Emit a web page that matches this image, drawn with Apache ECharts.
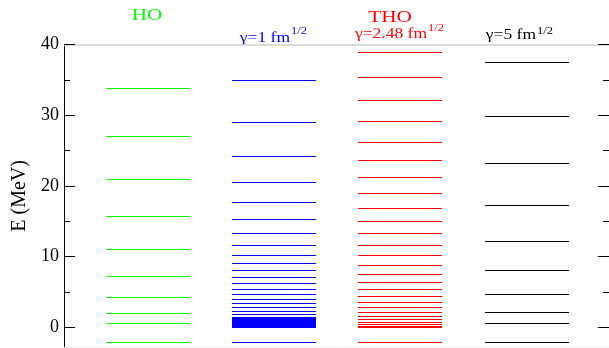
<!DOCTYPE html>
<html>
<head>
<meta charset="utf-8">
<script src="https://cdn.jsdelivr.net/npm/echarts@6/dist/echarts.min.js"></script>
<style>
  html, body {margin: 0; padding: 0; background: #fff;}
  #chart {width: 609px; height: 348px;}
</style>
</head>
<body>
<div id="chart"></div>
<script>
// energy levels (MeV), one array per column
const hoLevels = [33.88, 27.05, 20.97, 15.69, 11.08, 7.31, 4.30, 2.03, 0.62, -2.12];
const gamma1Levels = [35.05, 28.98, 24.27, 20.59, 17.67, 15.27, 13.34, 11.69, 10.28, 9.10,
  8.06, 7.12, 6.27, 5.45, 4.72, 4.06, 3.45, 2.88, 2.40, 1.97, 1.55,
  1.30, 1.16, 1.03, 0.91, 0.79, 0.68, 0.57, 0.47, 0.38, 0.29, 0.21, 0.13, 0.06, -2.12];
const thoLevels = [38.93, 35.39, 32.14, 29.12, 26.25, 23.70, 21.30, 18.99, 16.92, 15.04,
  13.29, 11.69, 10.18, 8.82, 7.57, 6.42, 5.37, 4.46, 3.61, 2.88, 2.20, 1.63, 1.15,
  0.78, 0.50, 0.24, 0.05, -2.12];
const gamma5Levels = [37.51, 29.88, 23.18, 17.30, 12.25, 8.06, 4.72, 2.18, 0.66, -2.12];

const majorTicks = [0, 10, 20, 30, 40];
const minorTicks = [5, 15, 25, 35];

const columns = [
  {levels: hoLevels, color: '#00ff00'},
  {levels: gamma1Levels, color: '#0000ff'},
  {levels: thoLevels, color: '#ff0000'},
  {levels: gamma5Levels, color: '#000000'},
];

const HALF = 0.333;
const FONT = 'Liberation Serif';

const myChart = echarts.init(document.getElementById('chart'));

function levelSeries(col, i) {
  return {
    type: 'custom',
    xAxisIndex: 0,
    yAxisIndex: 0,
    silent: true,
    data: col.levels.map(e => [i, e]),
    renderItem(params, api) {
      const x = api.value(0), e = api.value(1);
      const p1 = api.coord([x - HALF, e]);
      const p2 = api.coord([x + HALF, e]);
      const y = Math.round(p1[1]) + 0.5;
      return {
        type: 'line',
        shape: {x1: Math.round(p1[0]), y1: y, x2: Math.round(p2[0]), y2: y},
        style: {stroke: col.color, lineWidth: 1}
      };
    }
  };
}

function tickAxis(position, values, len, opts) {
  return Object.assign({
    type: 'value',
    position: position,
    min: -2.8,
    max: 40,
    axisLine: {show: false, onZero: false},
    axisTick: {show: true, inside: true, length: len, customValues: values,
      lineStyle: {color: '#000', width: 1}},
    axisLabel: {show: false},
    splitLine: {show: false},
  }, opts || {});
}

function title(text, x, y, size, color, align) {
  return {
    type: 'text',
    x: x, y: y,
    scaleX: 1.25,
    silent: true,
    style: {
      text: text, x: 0, y: 0,
      fill: color,
      font: size + 'px "Liberation Serif", serif',
      textAlign: align,
      textVerticalAlign: 'middle'
    }
  };
}

myChart.setOption({
  animation: false,
  grid: {left: 64, top: 44.5, width: 545, bottom: 0.7, containLabel: false},
  xAxis: [{
    type: 'value', position: 'top', min: -0.6656, max: 3.653,
    axisLine: {show: true, onZero: false, lineStyle: {color: '#d0d0d0', width: 1.5}},
    axisTick: {show: false}, axisLabel: {show: false}, splitLine: {show: false}
  }, {
    type: 'value', position: 'bottom', min: -0.6656, max: 3.653,
    axisLine: {show: true, onZero: false, lineStyle: {color: '#eeeeee', width: 1}},
    axisTick: {show: false}, axisLabel: {show: false}, splitLine: {show: false}
  }],
  yAxis: [
    tickAxis('left', majorTicks, 11, {
      axisLine: {show: true, onZero: false, lineStyle: {color: '#000', width: 1}},
      axisLabel: {show: true, customValues: majorTicks, margin: 5,
        color: '#000', fontSize: 18, fontFamily: FONT},
      name: 'E (MeV)',
      nameLocation: 'middle',
      nameGap: 33,
      nameTextStyle: {color: '#000', fontSize: 20, fontFamily: FONT}
    }),
    tickAxis('left', minorTicks, 6),
    tickAxis('right', majorTicks, 11, {
      axisLine: {show: true, onZero: false, lineStyle: {color: '#000', width: 1}}
    }),
    tickAxis('right', minorTicks, 6),
  ],
  graphic: [
    title('HO', 147, 16, 17, '#00ff00', 'center'),
    title('THO', 390, 18, 17, '#ff0000', 'center'),
    title('γ=1 fm', 290, 38.8, 14, '#0000ff', 'right'),
    title('1/2', 291, 31.7, 10, '#0000ff', 'left'),
    title('γ=2.48 fm', 427, 34, 14, '#ff0000', 'right'),
    title('1/2', 428, 28.5, 10, '#ff0000', 'left'),
    title('γ=5 fm', 536, 35.5, 14, '#000000', 'right'),
    title('1/2', 537, 31.2, 10, '#000000', 'left'),
  ],
  series: columns.map(levelSeries)
});
</script>
</body>
</html>
